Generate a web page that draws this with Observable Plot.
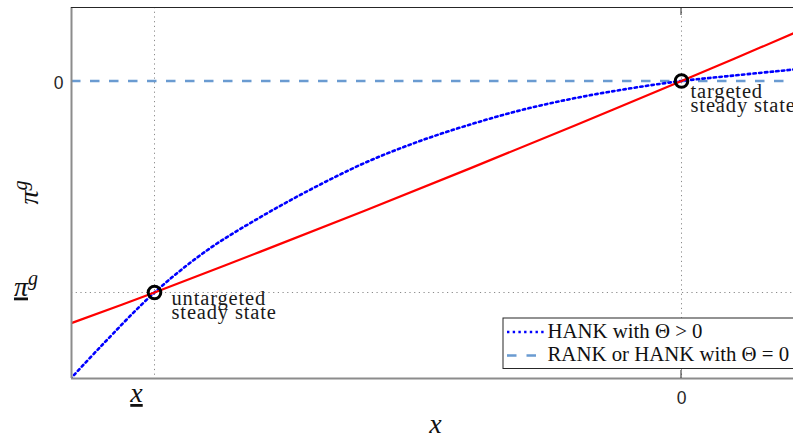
<!DOCTYPE html>
<html>
<head>
<meta charset="utf-8">
<script src="https://cdn.jsdelivr.net/npm/d3@7"></script>
<script src="https://cdn.jsdelivr.net/npm/@observablehq/plot@0.6"></script>
<style>
  html, body { margin: 0; padding: 0; background: #fff; }
  #chart svg { display: block; }
</style>
</head>
<body>
<div id="chart"></div>
<script>
// Axis limits (normalized: x = 0 and pi^g = 0 at the targeted steady state)
const xLimits = [-1.1575, 0.2125];
const yLimits = [-1.4066, 0.3475];

// Gridline / tick positions and their labels
const xGrid = [-1, 0];
const yGrid = [-1];
const yZero = 0;
const xTickMarks = [0];
const xTickLabels = ["x", "0"];      // "x" is drawn underlined (lower bound)
const yTickLabels = ["π", "0"];      // "π^g" underlined at -1

// HANK with Theta > 0 (concave curve)
const hankX = [-1.16, -1.1, -1.0, -0.9, -0.8, -0.7, -0.6, -0.5, -0.4, -0.3, -0.2, -0.1, 0, 0.1, 0.2, 0.22];
const hankY = [-1.41, -1.25, -1.0, -0.80, -0.645, -0.508, -0.386, -0.287, -0.205, -0.135, -0.080, -0.036, 0, 0.026, 0.051, 0.056];

// Policy line (red)
const policyX = [-1.16, -1.0, -0.8, -0.6, -0.4, -0.2, 0, 0.1, 0.22];
const policyY = [-1.147, -1.0, -0.808, -0.612, -0.412, -0.208, 0, 0.105, 0.234];

// RANK or HANK with Theta = 0 (flat)
const rankY = [0];

// Steady states
const steadyX = [-1, 0];
const steadyY = [-1, 0];
const steadyText = ["untargeted\nsteady state", "targeted\nsteady state"];

// Legend entries
const legendLabels = ["HANK with Θ > 0", "RANK or HANK with Θ = 0"];

const hank = hankX.map((x, i) => ({x, y: hankY[i]}));
const policy = policyX.map((x, i) => ({x, y: policyY[i]}));
const steady = steadyX.map((x, i) => ({x, y: steadyY[i], text: steadyText[i]}));

const BLUE = "#0000ff";
const RANK_BLUE = "#6a9bd1";
const GRID = "#8a8a8a";
const HANK_DASH = "2.4 3.3";
const serif = "'Liberation Serif', 'Times New Roman', serif";
const sans = "'Liberation Sans', Arial, sans-serif";

const noteStyle = {textAnchor: "start", lineAnchor: "top", lineHeight: 0.66,
  fontSize: 20.5, fontFamily: serif, fill: "#1a1a1a"};

const svg = Plot.plot({
  width: 793,
  height: 439,
  marginLeft: 71,
  marginRight: 0,
  marginTop: 7,
  marginBottom: 61,
  x: {domain: xLimits, axis: null},
  y: {domain: yLimits, axis: null},
  style: {background: "#fff"},
  marks: [
    // dotted grid
    Plot.ruleX(xGrid, {stroke: GRID, strokeWidth: 1, strokeDasharray: "1.2 3.5"}),
    Plot.ruleY(yGrid, {stroke: GRID, strokeWidth: 1, strokeDasharray: "1.2 3.5"}),
    // RANK line
    Plot.ruleY(rankY, {stroke: RANK_BLUE, strokeWidth: 2.6, strokeDasharray: "9.5 9.5"}),
    // HANK curve
    Plot.line(hank, {x: "x", y: "y", stroke: BLUE, strokeWidth: 2.6, strokeDasharray: HANK_DASH, curve: "catmull-rom", clip: true}),
    // policy line
    Plot.line(policy, {x: "x", y: "y", stroke: "#ff0000", strokeWidth: 2.2, curve: "catmull-rom", clip: true}),
    // steady states
    Plot.dot(steady, {x: "x", y: "y", r: 6.3, stroke: "#000", strokeWidth: 3, fill: "none"}),
    Plot.text(steady.slice(0, 1), {x: "x", y: "y", text: "text", dx: 17, dy: 3, ...noteStyle}),
    Plot.text(steady.slice(1), {x: "x", y: "y", text: "text", dx: 9, dy: 7.5, ...noteStyle}),
    // axes box
    Plot.ruleX([xLimits[0]], {stroke: "#8c8c8c", strokeWidth: 2}),
    Plot.ruleY([yLimits[0]], {stroke: "#8c8c8c", strokeWidth: 2}),
    Plot.ruleY([yLimits[1]], {stroke: "#262626", strokeWidth: 1}),
    // numeric tick labels
    Plot.text([xGrid[1]], {x: d => d, y: yLimits[0], text: () => xTickLabels[1], dy: 19.5,
      fontSize: 17.5, fontFamily: sans, fill: "#262626"}),
    Plot.text([yZero], {x: xLimits[0], y: d => d, text: () => yTickLabels[1], dx: -8, dy: 2, textAnchor: "end",
      fontSize: 17.5, fontFamily: sans, fill: "#262626"})
  ]
});

document.getElementById("chart").appendChild(svg);

const sx = svg.scale("x"), sy = svg.scale("y");
const root = d3.select(svg);
const xBottom = sy.apply(yLimits[0]);
const yTop = sy.apply(yLimits[1]);
const xLeft = sx.apply(xLimits[0]);
const xRight = sx.apply(xLimits[1]);

// slightly wider tracking for the steady-state notes
root.selectAll("text")
  .filter(function () { return this.textContent.includes("steady"); })
  .attr("letter-spacing", 0.85);

// inward tick marks
for (const v of xTickMarks) {
  const px = sx.apply(v);
  root.append("line").attr("x1", px).attr("x2", px).attr("y1", xBottom).attr("y2", xBottom - 8)
    .attr("stroke", "#262626").attr("stroke-width", 1);
  root.append("line").attr("x1", px).attr("x2", px).attr("y1", yTop).attr("y2", yTop + 8)
    .attr("stroke", "#262626").attr("stroke-width", 1);
}

// underlined x tick label at the lower bound
root.append("text")
  .attr("x", sx.apply(xGrid[0]) - 17.5).attr("y", xBottom + 24)
  .attr("text-anchor", "middle")
  .attr("font-family", serif).attr("font-style", "italic").attr("font-size", 28)
  .attr("fill", "#111")
  .style("text-decoration", "underline")
  .text(xTickLabels[0]);

// underlined pi^g tick label at the lower bound
const piTick = root.append("text")
  .attr("x", 38).attr("y", sy.apply(yGrid[0]) + 3.5)
  .attr("text-anchor", "end")
  .attr("font-family", serif).attr("font-style", "italic").attr("font-size", 28)
  .attr("fill", "#111");
piTick.append("tspan").style("text-decoration", "underline").text(yTickLabels[0]);
piTick.append("tspan").attr("font-size", 20).attr("dy", -11).text("g");

// axis titles
root.append("text")
  .attr("x", (xLeft + xRight) / 2 + 3.5).attr("y", xBottom + 55)
  .attr("text-anchor", "middle")
  .attr("font-family", serif).attr("font-style", "italic").attr("font-size", 28)
  .attr("fill", "#111")
  .text("x");

const yTitle = root.append("text")
  .attr("transform", `translate(38,${(yTop + xBottom) / 2}) rotate(-90)`)
  .attr("text-anchor", "middle")
  .attr("font-family", serif).attr("font-style", "italic").attr("font-size", 28)
  .attr("fill", "#111");
yTitle.append("tspan").text("π");
yTitle.append("tspan").attr("font-size", 20).attr("dy", -11).text("g");

// legend in the lower right corner
const lg = root.append("g").attr("transform", `translate(${xRight - 290},${xBottom - 60})`);
lg.append("rect").attr("x", 0).attr("y", 0).attr("width", 320).attr("height", 50.5)
  .attr("fill", "#fff").attr("stroke", "#262626").attr("stroke-width", 1);
const rows = [
  {y: 14, stroke: BLUE, width: 2.6, dash: HANK_DASH},
  {y: 37.5, stroke: RANK_BLUE, width: 2.6, dash: "9.5 10"}
];
rows.forEach((r, i) => {
  lg.append("line").attr("x1", 4).attr("x2", 41).attr("y1", r.y).attr("y2", r.y)
    .attr("stroke", r.stroke).attr("stroke-width", r.width).attr("stroke-dasharray", r.dash);
  lg.append("text").attr("x", 44.5).attr("y", r.y + 5.5)
    .attr("text-anchor", "start")
    .attr("font-family", serif).attr("font-size", 20.8).attr("fill", "#111")
    .text(legendLabels[i]);
});
</script>
</body>
</html>
